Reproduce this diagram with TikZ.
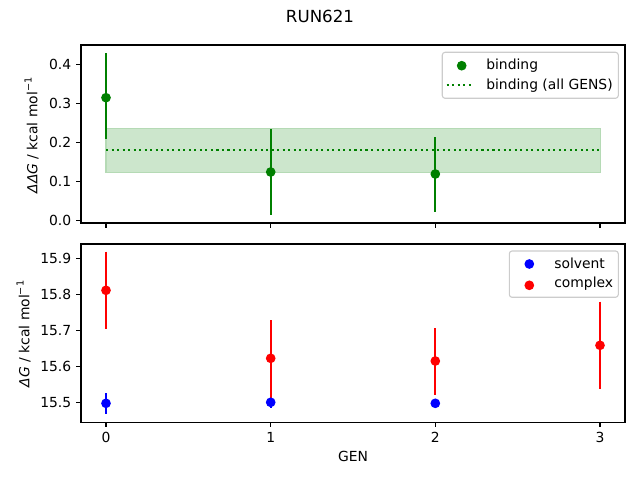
\documentclass[tikz,border=0pt]{standalone}
\usepackage{fontspec}
\setmainfont{DejaVu Sans}
\definecolor{mgreen}{HTML}{008000}
\definecolor{mband}{HTML}{CCE6CC}
\definecolor{mbandedge}{HTML}{B5DAB5}
\definecolor{mblue}{HTML}{0000FF}
\definecolor{mred}{HTML}{FF0000}
\definecolor{legedge}{HTML}{CCCCCC}
\newcommand{\supm}{\raisebox{0.75ex}{\fontsize{7}{8}\selectfont −1}}
\begin{document}
\begin{tikzpicture}[x=0.72pt,y=-0.72pt,
  font=\fontsize{10}{12}\selectfont,
  spine/.style={draw=black,line width=0.8pt},
  tickmark/.style={draw=black,line width=0.8pt},
  ylab/.style={anchor=east,inner sep=0pt},
  xlab/.style={anchor=north,inner sep=0pt},
  errg/.style={draw=mgreen,line width=1.5pt},
  errr/.style={draw=mred,line width=1.5pt},
  errb/.style={draw=mblue,line width=1.5pt},
  legbox/.style={draw=legedge,fill=white,fill opacity=0.8,draw opacity=1,line width=0.8pt,rounded corners=2pt},
  legtxt/.style={anchor=base west,inner sep=0pt},
  avgline/.style={draw=mgreen,line width=1.5pt,dash pattern=on 1.5pt off 2.475pt}
]
\useasboundingbox (0,0) rectangle (640,480);
\def\mr{3.5pt}
% title
\node[font=\fontsize{12}{14}\selectfont] (title) at (320,16) {RUN621};

% ---------- top panel ----------
\fill[mband] (106,128.3) rectangle (600.5,172.3);
\draw[mbandedge,line width=0.8pt] (106,128.3) rectangle (600.5,172.3);
\draw[avgline] (106,149.7) -- (600.5,149.7);
\draw[errg] (106,53.3) -- (106,139.3);
\draw[errg] (270.7,129.3) -- (270.7,214.7);
\draw[errg] (435.3,137) -- (435.3,211.7);
\fill[mgreen] (106,97.7) circle (\mr);
\fill[mgreen] (270.7,172) circle (\mr);
\fill[mgreen] (435.3,174) circle (\mr);
\draw[spine] (81,45) rectangle (625,223);
% y ticks top
\foreach \yy/\lab in {220.7/0.0,181.6/0.1,142.5/0.2,103.4/0.3,64.3/0.4}{
  \draw[tickmark] (81,\yy) -- ++(-4.86,0);
  \node[ylab] at (71.5,\yy) {\lab};
}
% x ticks top (no labels)
\foreach \xx in {106,270.7,435.3,600}{
  \draw[tickmark] (\xx,223) -- ++(0,4.86);
}
\node[rotate=90,anchor=base,inner sep=0pt] (ylabtop) at (37.3,135.5) {\textit{ΔΔG} / kcal mol\supm};
% legend top
\draw[legbox] (442.3,52.3) rectangle (618.3,98.3);
\fill[mgreen] (461.7,65.7) circle (\mr);
\draw[avgline] (446.7,85) -- (474.3,85);
\node[legtxt] (lb1) at (486,69.5) {binding};
\node[legtxt] (lb2) at (486,89.5) {binding (all GENS)};

% ---------- bottom panel ----------
\draw[errb] (106,393) -- (106,413.7);
\draw[errb] (270.7,397) -- (270.7,408.3);
\draw[errb] (435.3,400.5) -- (435.3,406);
\draw[errr] (106,251.7) -- (106,328.7);
\draw[errr] (270.7,320) -- (270.7,400);
\draw[errr] (435.3,328) -- (435.3,395);
\draw[errr] (600,301.7) -- (600,388.7);
\fill[mblue] (106,403.3) circle (\mr);
\fill[mblue] (270.7,402.3) circle (\mr);
\fill[mblue] (435.3,403.3) circle (\mr);
\fill[mred] (106,290.3) circle (\mr);
\fill[mred] (270.7,358.3) circle (\mr);
\fill[mred] (435.3,361) circle (\mr);
\fill[mred] (600,345.3) circle (\mr);
\draw[spine] (81,244) rectangle (625,422.3);
\foreach \yy/\lab in {402.7/15.5,366.7/15.6,330.7/15.7,294.7/15.8,258.7/15.9}{
  \draw[tickmark] (81,\yy) -- ++(-4.86,0);
  \node[ylab] at (71.5,\yy) {\lab};
}
\foreach \xx/\lab in {106/0,270.7/1,435.3/2,600/3}{
  \draw[tickmark] (\xx,422.3) -- ++(0,4.86);
  \node[xlab] at (\xx,432.2) {\lab};
}
\node (gen) at (353,456.5) {GEN};
\node[rotate=90,anchor=base,inner sep=0pt] (ylabbot) at (29.3,334) {\textit{ΔG} / kcal mol\supm};
% legend bottom
\draw[legbox] (509.3,251) rectangle (618.3,297.3);
\fill[mblue] (529.3,264) circle (\mr);
\fill[mred] (529.3,285.3) circle (\mr);
\node[legtxt] (ls1) at (554,268) {solvent};
\node[legtxt] (ls2) at (554,287.7) {complex};
\end{tikzpicture}
\end{document}
